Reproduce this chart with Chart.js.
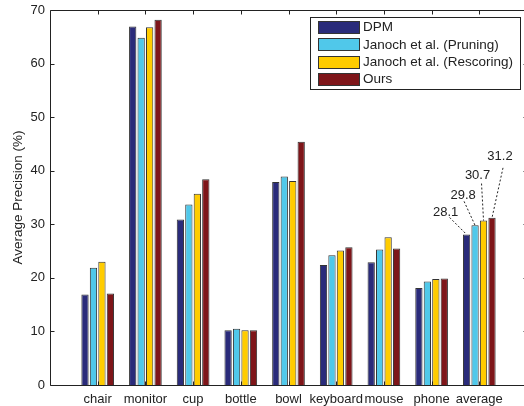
<!DOCTYPE html>
<html>
<head>
<meta charset="utf-8">
<script src="https://cdn.jsdelivr.net/npm/chart.js@4"></script>
<style>
  html, body { margin: 0; padding: 0; background: #fff; overflow: hidden; }
  /* canvas is a bit wider than the window: the original frame runs just past the right edge */
  #wrap { width: 524px; height: 406px; overflow: hidden; position: relative; }
  #apChart { display: block; }
</style>
</head>
<body>
<div id="wrap"><canvas id="apChart" width="540" height="406"></canvas></div>
<script>
// categories and average precision per method
var categories = ['chair', 'monitor', 'cup', 'bottle', 'bowl', 'keyboard', 'mouse', 'phone', 'average'];
var seriesNames = ['DPM', 'Janoch et al. (Pruning)', 'Janoch et al. (Rescoring)', 'Ours'];
var dpm       = [16.9, 66.9, 30.9, 10.2, 37.9, 22.4, 22.9, 18.1, 28.1];
var pruning   = [21.9, 64.8, 33.7, 10.5, 38.9, 24.2, 25.3, 19.3, 29.8];
var rescoring = [23.0, 66.8, 35.7, 10.2, 38.1, 25.1, 27.6, 19.8, 30.7];
var ours      = [17.1, 68.2, 38.4, 10.2, 45.4, 25.7, 25.5, 19.9, 31.2];
var yMin = 0, yMax = 70, yStep = 10;

var colors = ['#2a2b7a', '#50c8ea', '#ffcc00', '#7e1519'];
var font = 'Liberation Sans, Arial, Helvetica, sans-serif';
var ink = '#222';

// pad one empty slot each side so the axis runs from 0 to 10 like the original
function pad(arr) { return [null].concat(arr, [null]); }

// label offsets (px) relative to the top of each "average" bar
var noteOffsets = [
    { tx: -21, ty: -22, lx: -17, ly: -17 },
    { tx: -12, ty: -30, lx: -11, ly: -24 },
    { tx: -6,  ty: -45, lx: -2,  ly: -37 },
    { tx: 8,   ty: -61, lx: 11,  ly: -50 }
];

var frameTicks = {
    id: 'frameTicks',
    afterDatasetsDraw: function(chart) {
        var ctx = chart.ctx, a = chart.chartArea, x = chart.scales.x, y = chart.scales.y;
        ctx.save();
        ctx.strokeStyle = ink;
        ctx.lineWidth = 1;
        var L = Math.round(a.left) + 0.5, R = Math.round(a.right) + 0.5;
        var T = Math.round(a.top) + 0.5, B = Math.round(a.bottom) + 0.5;
        ctx.beginPath();
        ctx.moveTo(L, T); ctx.lineTo(R, T); ctx.lineTo(R, B); ctx.lineTo(L, B); ctx.closePath();
        // inward ticks, matlab style
        y.ticks.forEach(function(t, i) {
            var py = Math.round(y.getPixelForTick(i)) + 0.5;
            ctx.moveTo(L, py); ctx.lineTo(L + 4, py);
            ctx.moveTo(R, py); ctx.lineTo(R - 4, py);
        });
        for (var i = 1; i <= categories.length; i++) {
            var px = Math.round(x.getPixelForTick(i)) + 0.5;
            ctx.moveTo(px, T); ctx.lineTo(px, T + 4);
            ctx.moveTo(px, B); ctx.lineTo(px, B - 4);
        }
        ctx.stroke();

        // value notes on the "average" group
        ctx.font = '13px ' + font;
        ctx.fillStyle = ink;
        ctx.textAlign = 'center';
        ctx.textBaseline = 'middle';
        var last = categories.length;
        chart.data.datasets.forEach(function(ds, di) {
            var bar = chart.getDatasetMeta(di).data[last];
            var o = noteOffsets[di];
            ctx.setLineDash([2, 2]);
            ctx.beginPath();
            ctx.moveTo(bar.x + o.lx, bar.y + o.ly);
            ctx.lineTo(bar.x, bar.y);
            ctx.stroke();
            ctx.setLineDash([]);
            ctx.fillText(ds.data[last].toFixed(1), bar.x + o.tx, bar.y + o.ty);
        });
        ctx.restore();
    },
    afterDraw: function(chart) {
        // legend box in the top right of the axes
        var ctx = chart.ctx;
        var bx = 310.5, by = 17.5, bw = 210, bh = 72;
        ctx.save();
        ctx.fillStyle = '#fff';
        ctx.fillRect(bx, by, bw, bh);
        ctx.strokeStyle = ink;
        ctx.lineWidth = 1;
        ctx.strokeRect(bx, by, bw, bh);
        ctx.font = '13.5px ' + font;
        ctx.textBaseline = 'middle';
        ctx.textAlign = 'left';
        chart.data.datasets.forEach(function(ds, i) {
            var cy = 27 + i * 17.4;
            ctx.fillStyle = ds.backgroundColor;
            ctx.fillRect(318, Math.round(cy - 6), 41, 12);
            ctx.strokeStyle = '#333';
            ctx.strokeRect(318.5, Math.round(cy - 6) + 0.5, 41, 12);
            ctx.fillStyle = ink;
            ctx.fillText(ds.label, 363, cy + 0.5);
        });
        ctx.restore();
    }
};

var seriesData = [dpm, pruning, rescoring, ours];
var ctx1 = document.getElementById('apChart').getContext('2d');
var apChart = new Chart(ctx1, {
    type: 'bar',
    data: {
        labels: [''].concat(categories, ['']),
        datasets: seriesData.map(function(d, i) {
            return {
                label: seriesNames[i],
                data: pad(d),
                backgroundColor: colors[i],
                borderColor: '#333',
                borderWidth: 1,
                categoryPercentage: 0.71,
                barPercentage: 0.86
            };
        })
    },
    options: {
        responsive: false,
        animation: false,
        layout: { padding: { top: 10, right: 13, left: 0, bottom: 0 } },
        plugins: {
            legend: { display: false },
            tooltip: { enabled: false }
        },
        scales: {
            x: {
                offset: false,
                grid: { display: false, drawTicks: false },
                border: { display: false },
                ticks: {
                    autoSkip: false, maxRotation: 0, padding: 7,
                    color: ink, font: { family: font, size: 13 }
                },
                afterFit: function(s) { s.height = 21; s.paddingLeft = 0; s.paddingRight = 0; }
            },
            y: {
                min: yMin, max: yMax,
                grid: { display: false, drawTicks: false },
                border: { display: false },
                ticks: {
                    stepSize: yStep, padding: 5,
                    color: ink, font: { family: font, size: 13 }
                },
                title: {
                    display: true, text: 'Average Precision (%)',
                    color: ink, font: { family: font, size: 13.5 },
                    padding: { top: 10, bottom: 0 }
                },
                afterFit: function(s) { s.width = 50; s.paddingTop = 0; s.paddingBottom = 0; }
            }
        }
    },
    plugins: [frameTicks]
});
</script>
</body>
</html>
